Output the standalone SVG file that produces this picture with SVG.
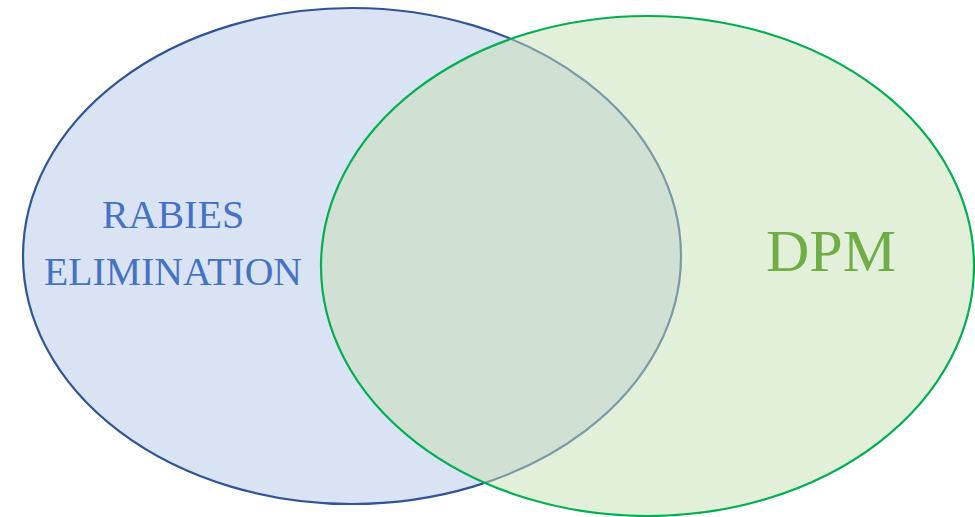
<svg xmlns="http://www.w3.org/2000/svg" width="975" height="517" viewBox="0 0 975 517">
<style>
.lbl{font-family:"Liberation Serif","Times New Roman",serif;text-anchor:middle}
</style>
<rect width="975" height="517" fill="#ffffff"/>
<g id="rabies">
<ellipse cx="352" cy="256" rx="329" ry="248" fill="#DAE3F3" stroke="#2F5597" stroke-width="2.2"/>
<text class="lbl" x="173" y="228" font-size="40" fill="#4472C4">RABIES</text>
<text class="lbl" x="173" y="285" font-size="40" fill="#4472C4" textLength="258" lengthAdjust="spacingAndGlyphs">ELIMINATION</text>
</g>
<g id="dpm">
<ellipse cx="647.5" cy="266" rx="326.5" ry="250" fill="#C5E0B4" fill-opacity="0.5" stroke="#00B050" stroke-width="2.2"/>
<text class="lbl" x="831" y="271" font-size="60" fill="#70AD47">DPM</text>
</g>
<g id="connectors"/>
</svg>
